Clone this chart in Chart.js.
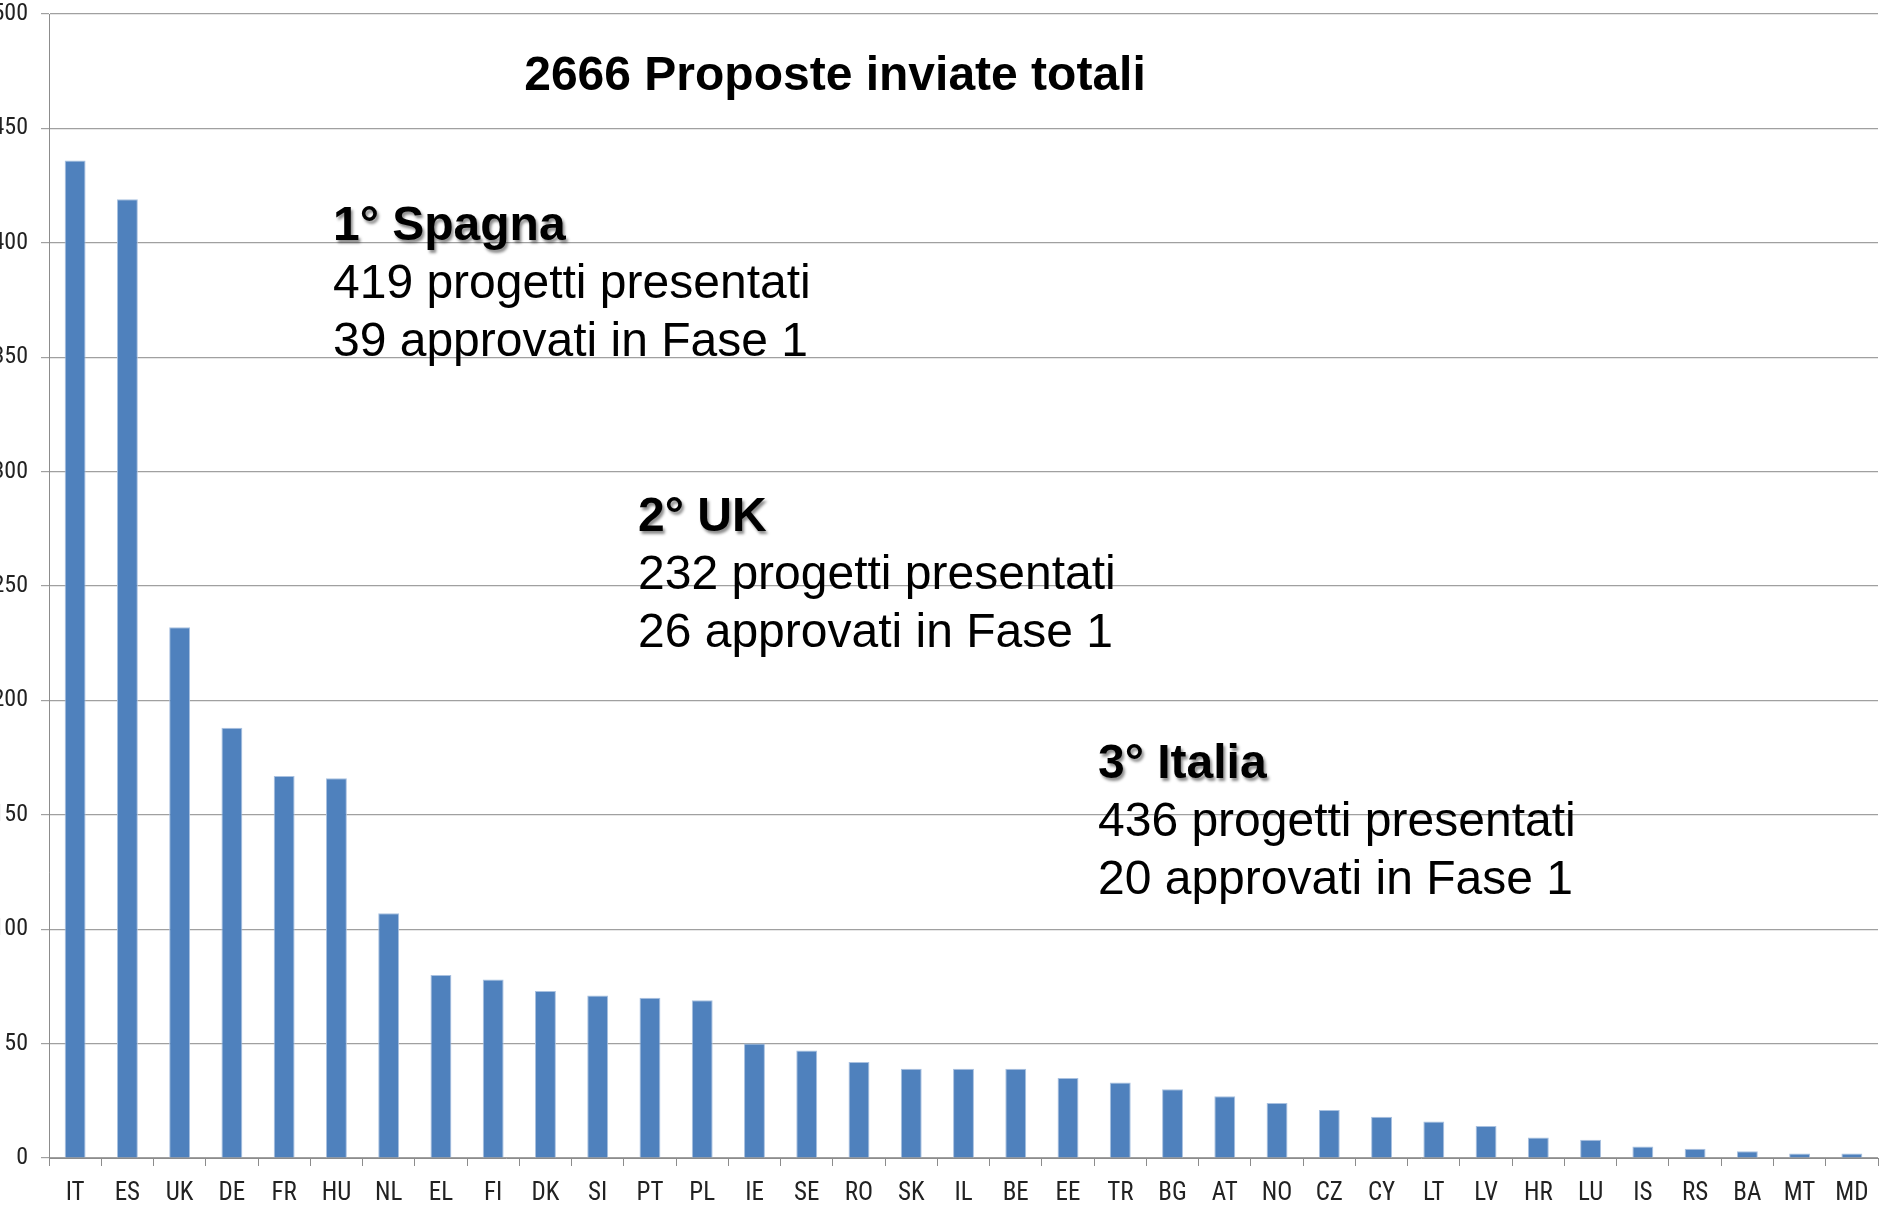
<!DOCTYPE html>
<html>
<head>
<meta charset="utf-8">
<script src="https://cdn.jsdelivr.net/npm/chart.js@4.4.0/dist/chart.umd.min.js"></script>
<style>
  html, body { margin: 0; padding: 0; background: #fff; }
  #wrap { position: relative; width: 1883px; height: 1210px; }
</style>
</head>
<body>
<div id="wrap"><canvas id="chart"></canvas></div>
<script>
const countries = ['IT','ES','UK','DE','FR','HU','NL','EL','FI','DK','SI','PT','PL','IE','SE','RO','SK','IL','BE','EE','TR','BG','AT','NO','CZ','CY','LT','LV','HR','LU','IS','RS','BA','MT','MD'];
const proposals = [436,419,232,188,167,166,107,80,78,73,71,70,69,50,47,42,39,39,39,35,33,30,27,24,21,18,16,14,9,8,5,4,3,2,2];
const yTicks = [0,50,100,150,200,250,300,350,400,450,500];

const titleText = '2666 Proposte inviate totali';
const notes = [
  { head: '1° Spagna', lines: ['419 progetti presentati', '39 approvati in Fase 1'], x: 333, y: 240 },
  { head: '2° UK', lines: ['232 progetti presentati', '26 approvati in Fase 1'], x: 638, y: 531 },
  { head: '3° Italia', lines: ['436 progetti presentati', '20 approvati in Fase 1'], x: 1098, y: 778 },
];

const textPlugin = {
  id: 'notes',
  afterDraw(chart) {
    const ctx = chart.ctx;
    ctx.save();
    ctx.fillStyle = '#000';
    ctx.textBaseline = 'alphabetic';
    ctx.font = 'bold 48px "Liberation Sans", Arial, sans-serif';
    ctx.textAlign = 'center';
    ctx.fillText(titleText, 835, 90);
    ctx.textAlign = 'left';
    notes.forEach(n => {
      ctx.save();
      ctx.font = 'bold 48px "Liberation Sans", Arial, sans-serif';
      ctx.shadowColor = 'rgba(0,0,0,0.45)';
      ctx.shadowOffsetX = 2;
      ctx.shadowOffsetY = 3;
      ctx.shadowBlur = 3;
      ctx.fillText(n.head, n.x, n.y);
      ctx.restore();
      ctx.font = '48px "Liberation Sans", Arial, sans-serif';
      n.lines.forEach((l, i) => ctx.fillText(l, n.x, n.y + 58 * (i + 1)));
    });
    ctx.restore();
  }
};

const axisFont = { family: '"Roboto Condensed", "DejaVu Sans Condensed", sans-serif', size: 25 };
const yFont = { family: '"Roboto Condensed", "DejaVu Sans Condensed", sans-serif', size: 24 };

new Chart(document.getElementById('chart'), {
  type: 'bar',
  data: {
    labels: countries,
    datasets: [{
      data: proposals,
      backgroundColor: '#4F81BD',
      borderColor: '#A9C1E0',
      borderWidth: 1,
      barPercentage: 0.4,
      categoryPercentage: 1.0,
    }]
  },
  options: {
    responsive: true,
    maintainAspectRatio: false,
    animation: false,
    layout: { padding: { top: 14, right: 5, left: 0, bottom: 0 } },
    plugins: { legend: { display: false }, tooltip: { enabled: false } },
    scales: {
      x: {
        offset: true,
        afterFit: (s) => { s.height = 52; s.paddingLeft = 0; s.paddingRight = 0; },
        grid: { offset: true, drawOnChartArea: false, drawTicks: true, tickLength: 8, color: '#8c8c8c', lineWidth: 1 },
        border: { color: '#8c8c8c', width: 1 },
        ticks: { color: '#222', font: axisFont, padding: 13, maxRotation: 0, autoSkip: false }
      },
      y: {
        min: 0,
        max: 500,
        afterFit: (s) => { s.width = 49; s.paddingTop = 0; s.paddingBottom = 0; },
        afterBuildTicks: (s) => { s.ticks = yTicks.map(v => ({ value: v })); },
        grid: { color: '#a0a0a0', lineWidth: 1.2, tickLength: 8 },
        border: { color: '#8c8c8c', width: 1 },
        ticks: { color: '#222', font: yFont, padding: 13 }
      }
    }
  },
  plugins: [textPlugin]
});
</script>
</body>
</html>
